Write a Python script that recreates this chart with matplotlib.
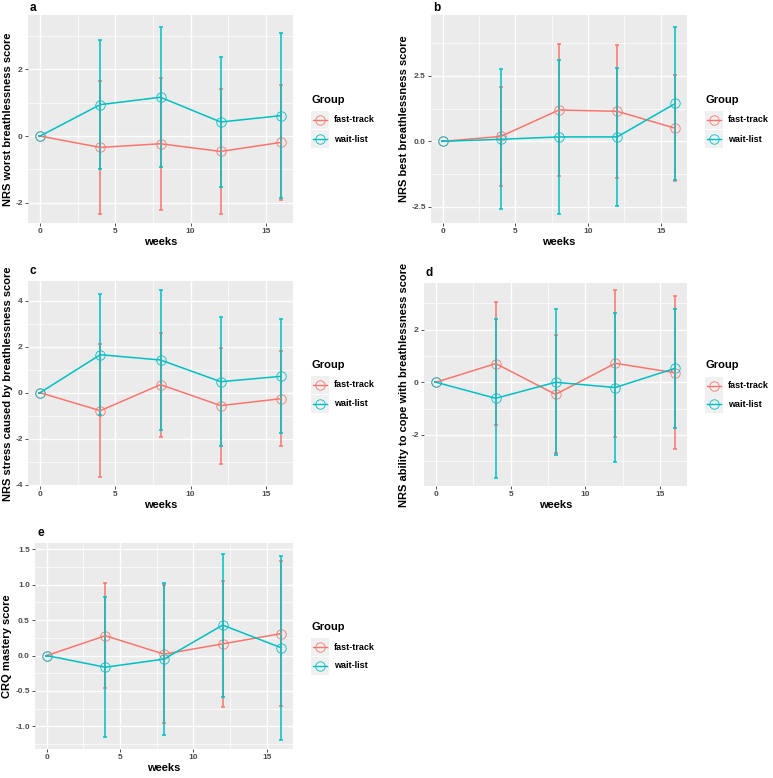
import matplotlib
matplotlib.use("Agg")
import matplotlib.pyplot as plt
from matplotlib.ticker import FixedLocator
from matplotlib.lines import Line2D

plt.rcParams['font.family'] = ['Liberation Sans', 'DejaVu Sans']

# data
weeks = [0, 4, 8, 12, 16]
groups = ["fast-track", "wait-list"]
colors = ["#F8766D", "#00BFC4"]

# panel a: NRS worst breathlessness
a_fast_mean = [0, -0.34, -0.23, -0.46, -0.19]
a_fast_err = [0, 1.99, 1.97, 1.86, 1.72]
a_wait_mean = [0, 0.94, 1.16, 0.42, 0.61]
a_wait_err = [0, 1.94, 2.09, 1.95, 2.46]

# panel b: NRS best breathlessness
b_fast_mean = [0, 0.19, 1.20, 1.15, 0.50]
b_fast_err = [0, 1.89, 2.54, 2.54, 2.03]
b_wait_mean = [0, 0.08, 0.17, 0.17, 1.45]
b_wait_err = [0, 2.68, 2.94, 2.63, 2.93]

# panel c: NRS stress caused by breathlessness
c_fast_mean = [0, -0.78, 0.35, -0.56, -0.26]
c_fast_err = [0, 2.88, 2.26, 2.52, 2.05]
c_wait_mean = [0, 1.65, 1.42, 0.48, 0.71]
c_wait_err = [0, 2.63, 3.02, 2.79, 2.48]

# panel d: NRS ability to cope with breathlessness
d_fast_mean = [0, 0.71, -0.46, 0.72, 0.36]
d_fast_err = [0, 2.35, 2.24, 2.79, 2.91]
d_wait_mean = [0, -0.61, 0.0, -0.20, 0.53]
d_wait_err = [0, 3.03, 2.78, 2.83, 2.27]

# panel e: CRQ mastery
e_fast_mean = [0, 0.28, 0.02, 0.165, 0.31]
e_fast_err = [0, 0.74, 0.97, 0.89, 1.02]
e_wait_mean = [0, -0.165, -0.05, 0.43, 0.11]
e_wait_err = [0, 0.99, 1.07, 1.01, 1.30]

W, H = 773, 778
fig = plt.figure(figsize=(W / 100, H / 100), dpi=100)


def px_axes(x0, y0, x1, y1, **kw):
    return fig.add_axes([x0 / W, 1 - y1 / H, (x1 - x0) / W, (y1 - y0) / H], **kw)


def draw_panel(box, letter, ylabel, series, ylim, yticks, yfmt):
    x0, y0, x1, y1 = box
    ax = px_axes(x0, y0, x1, y1)
    ax.set_facecolor("#EBEBEB")
    for s in ax.spines.values():
        s.set_visible(False)
    ax.set_xlim(-0.8, 16.8)
    ax.set_ylim(*ylim)
    ax.xaxis.set_major_locator(FixedLocator([0, 5, 10, 15]))
    ax.xaxis.set_minor_locator(FixedLocator([2.5, 7.5, 12.5]))
    ax.yaxis.set_major_locator(FixedLocator(yticks))
    step = yticks[1] - yticks[0]
    minors = [t + step / 2 for t in yticks] + [yticks[0] - step / 2]
    ax.yaxis.set_minor_locator(FixedLocator(minors))
    ax.set_yticklabels([yfmt.format(t) for t in yticks])
    ax.grid(which="major", color="white", lw=1.0)
    ax.grid(which="minor", color="white", lw=0.5)
    ax.set_axisbelow(True)
    ax.tick_params(which="major", length=2.2, width=0.6, color="#333333",
                   labelsize=6, labelcolor="#4D4D4D", pad=1.5)
    ax.tick_params(which="minor", length=0)
    for lab in ax.get_xticklabels() + ax.get_yticklabels():
        lab.set_fontweight("bold")
    ax.set_xlabel("weeks", fontsize=8, fontweight="bold", labelpad=1)
    ax.set_ylabel(ylabel, fontsize=8, fontweight="bold", labelpad=2)
    for (mean, err), col in zip(series, colors):
        ax.errorbar(weeks, mean, yerr=err, color=col, lw=1.1, capsize=1.7,
                    capthick=1.1, elinewidth=1.1)
        ax.plot(weeks, mean, 'o', ms=6.8, mfc="none", mec=col, mew=0.6)
    fig.text((x0 + 2) / W, 1 - 8 / H if y0 < 20 else 1 - (y0 - 10) / H,
             letter, fontsize=8.5, fontweight="bold", va="center", ha="left")

    # legend
    cy = (y0 + y1) / 2
    lx = x1 + 18
    fig.text(lx / W, 1 - (cy - 19) / H, "Group", fontsize=8,
             fontweight="bold", va="center", ha="left")
    for i, (g, col) in enumerate(zip(groups, colors)):
        ky = cy + 1 + i * 19
        kax = px_axes(lx, ky - 9, lx + 18, ky + 9)
        kax.set_facecolor("#F0F0F0")
        for s in kax.spines.values():
            s.set_visible(False)
        kax.set_xticks([])
        kax.set_yticks([])
        kax.set_xlim(0, 1)
        kax.set_ylim(0, 1)
        kax.add_line(Line2D([0.1, 0.9], [0.5, 0.5], color=col, lw=1.0))
        kax.plot([0.5], [0.5], 'o', ms=6.8, mfc="none", mec=col, mew=0.6)
        fig.text((lx + 23) / W, 1 - ky / H, g, fontsize=6.5,
                 fontweight="bold", va="center", ha="left")
    return ax


draw_panel((28, 15, 293, 223), "a", "NRS worst breathlessness score",
           [(a_fast_mean, a_fast_err), (a_wait_mean, a_wait_err)],
           (-2.6, 3.62), [-2, 0, 2], "{:g}")
draw_panel((431, 15, 687, 223), "b", "NRS best breathlessness score",
           [(b_fast_mean, b_fast_err), (b_wait_mean, b_wait_err)],
           (-3.12, 4.83), [-2.5, 0.0, 2.5], "{:.1f}")
draw_panel((28, 281, 293, 486), "c", "NRS stress caused by breathlessness score",
           [(c_fast_mean, c_fast_err), (c_wait_mean, c_wait_err)],
           (-4.05, 4.85), [-4, -2, 0, 2, 4], "{:g}")
draw_panel((424, 283, 687, 486), "d", "NRS ability to cope with breathlessness score",
           [(d_fast_mean, d_fast_err), (d_wait_mean, d_wait_err)],
           (-3.94, 3.77), [-2, 0, 2], "{:g}")
draw_panel((35, 543, 293, 749), "e", "CRQ mastery score",
           [(e_fast_mean, e_fast_err), (e_wait_mean, e_wait_err)],
           (-1.32, 1.59), [-1.0, -0.5, 0.0, 0.5, 1.0, 1.5], "{:.1f}")

fig.savefig("out.png", dpi=100, facecolor="white")
